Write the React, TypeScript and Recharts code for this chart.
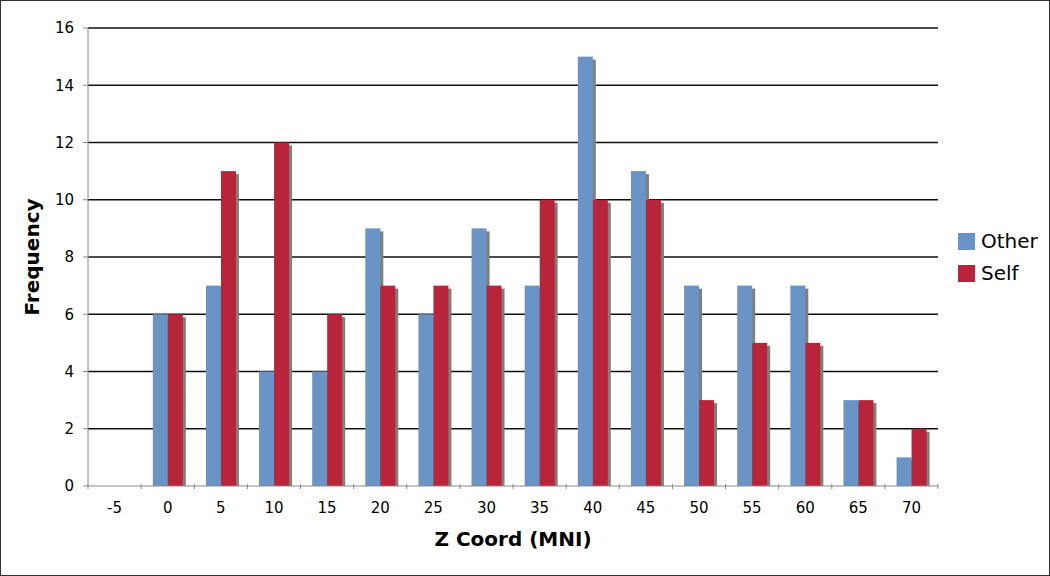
import { BarChart, Bar, XAxis, YAxis, CartesianGrid, Legend } from "recharts";

const zCoords = ["-5", "0", "5", "10", "15", "20", "25", "30", "35", "40", "45", "50", "55", "60", "65", "70"];
const otherCounts = [0, 6, 7, 4, 4, 9, 6, 9, 7, 15, 11, 7, 7, 7, 3, 1];
const selfCounts = [0, 6, 11, 12, 6, 7, 7, 7, 10, 10, 10, 3, 5, 5, 3, 2];
const yTicks = [0, 2, 4, 6, 8, 10, 12, 14, 16];
const yMax = 16;

const data = zCoords.map((z, i) => ({ z, Other: otherCounts[i], Self: selfCounts[i] }));

const BLUE = "#6a93c6";
const RED = "#b8253a";
const SHADOW = "#7d8278";
const FONT = "'DejaVu Sans', Verdana, sans-serif";
const HALF_BAND = 849 / 16 / 2;

function ShadowBar(props: any) {
  const { x, y, width, height, fill } = props;
  if (!height || height <= 0) return null;
  return (
    <g>
      <rect x={x + 3} y={y + 3} width={width} height={Math.max(0, height - 3)} fill={SHADOW} />
      <rect x={x} y={y} width={width} height={height} fill={fill} />
    </g>
  );
}

function XTick(props: any) {
  const { x, y, payload, index } = props;
  const top = y - 10;
  return (
    <g>
      <line x1={x - HALF_BAND} y1={top} x2={x - HALF_BAND} y2={top + 5} stroke="#888" />
      {index === zCoords.length - 1 && (
        <line x1={x + HALF_BAND} y1={top} x2={x + HALF_BAND} y2={top + 5} stroke="#888" />
      )}
      <text x={x} y={top + 29} textAnchor="middle" fontSize={15} fontFamily={FONT} fill="#000">
        {payload.value}
      </text>
    </g>
  );
}

function LegendBox() {
  const items = [
    { name: "Other", color: BLUE },
    { name: "Self", color: RED },
  ];
  return (
    <div style={{ fontFamily: FONT, fontSize: 20 }}>
      {items.map((it) => (
        <div key={it.name} style={{ display: "flex", alignItems: "center", height: 32 }}>
          <span style={{ width: 17, height: 17, background: it.color, marginRight: 6, display: "inline-block" }} />
          <span>{it.name}</span>
        </div>
      ))}
    </div>
  );
}

export default function App() {
  return (
    <div
      style={{
        position: "absolute",
        left: 0,
        top: 0,
        width: 1050,
        height: 576,
        border: "1.5px solid #333",
        boxSizing: "border-box",
        background: "#fff",
      }}
    >
      <BarChart
        width={1047}
        height={573}
        data={data}
        margin={{ top: 27, right: 110, bottom: 28, left: 27 }}
        barCategoryGap="22%"
        barGap={0}
      >
        <CartesianGrid
          vertical={false}
          stroke="#111"
          strokeWidth={1.5}
          horizontalCoordinatesGenerator={({ offset }: any) =>
            yTicks.filter((t) => t > 0).map((t) => offset.top + offset.height * (1 - t / yMax))
          }
        />
        <XAxis
          dataKey="z"
          height={60}
          axisLine={{ stroke: "#888" }}
          tickLine={false}
          tick={<XTick />}
          interval={0}
          label={{
            value: "Z Coord (MNI)",
            position: "insideBottom",
            offset: 0,
            style: { fontFamily: FONT, fontSize: 20, fontWeight: "bold", fill: "#000" },
          }}
        />
        <YAxis
          yAxisId="left"
          width={60}
          domain={[0, yMax]}
          ticks={yTicks}
          interval={0}
          axisLine={{ stroke: "#888" }}
          tickLine={{ stroke: "#888" }}
          tickSize={5}
          tickMargin={9}
          tick={{ fontFamily: FONT, fontSize: 15, fill: "#000" }}
          label={{
            value: "Frequency",
            angle: -90,
            position: "insideLeft",
            offset: 0,
            dx: 4,
            style: { fontFamily: FONT, fontSize: 20, fontWeight: "bold", fill: "#000", textAnchor: "middle" },
          }}
        />
        <YAxis
          yAxisId="right"
          orientation="right"
          width={0}
          domain={[0, yMax]}
          tick={false}
          tickLine={false}
          axisLine={{ stroke: "#888" }}
        />
        <Legend
          layout="horizontal"
          align="center"
          verticalAlign="middle"
          content={<LegendBox />}
          wrapperStyle={{ left: 957, top: 224, width: 90 }}
        />
        <Bar yAxisId="left" dataKey="Other" fill={BLUE} shape={<ShadowBar />} isAnimationActive={false} />
        <Bar yAxisId="left" dataKey="Self" fill={RED} shape={<ShadowBar />} isAnimationActive={false} />
      </BarChart>
    </div>
  );
}
